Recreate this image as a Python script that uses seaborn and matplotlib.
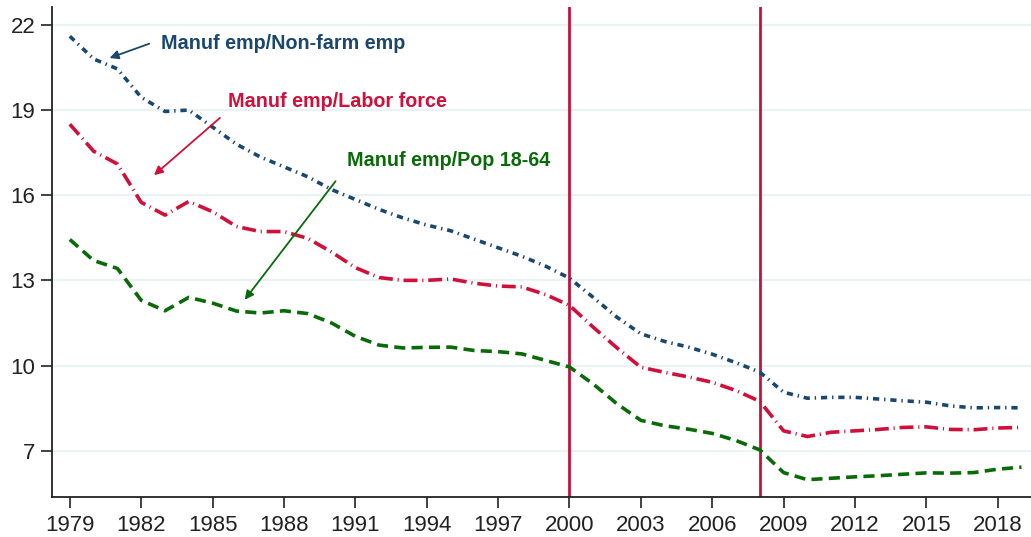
import matplotlib
matplotlib.use('Agg')
import matplotlib.pyplot as plt
import seaborn as sns
import pandas as pd

# Datos (porcentajes)
years = list(range(1979, 2020))
nonfarm = [21.6, 20.8, 20.45, 19.45, 18.95, 19.0, 18.4, 17.8, 17.35, 17.0,
           16.65, 16.2, 15.85, 15.5, 15.2, 14.95, 14.75, 14.45, 14.15, 13.85,
           13.5, 13.08, 12.4, 11.7, 11.12, 10.85, 10.65, 10.4, 10.1, 9.77,
           9.06, 8.85, 8.88, 8.88, 8.82, 8.76, 8.71, 8.58, 8.51, 8.52, 8.51]
labor = [18.5, 17.55, 17.1, 15.75, 15.3, 15.78, 15.42, 14.9, 14.72, 14.72,
         14.48, 14.0, 13.45, 13.1, 13.0, 13.0, 13.05, 12.9, 12.8, 12.77,
         12.5, 12.12, 11.35, 10.62, 9.94, 9.76, 9.6, 9.41, 9.12, 8.74,
         7.7, 7.5, 7.65, 7.7, 7.75, 7.82, 7.84, 7.75, 7.74, 7.8, 7.82]
pop1864 = [14.44, 13.7, 13.42, 12.3, 11.93, 12.4, 12.2, 11.92, 11.85, 11.93,
           11.83, 11.5, 11.03, 10.72, 10.62, 10.64, 10.65, 10.53, 10.49, 10.41,
           10.18, 9.95, 9.35, 8.65, 8.07, 7.88, 7.76, 7.61, 7.36, 7.03,
           6.23, 5.98, 6.03, 6.08, 6.12, 6.17, 6.22, 6.21, 6.23, 6.35, 6.42]
recession_years = [2000, 2008]
xticks = list(range(1979, 2019, 3))
yticks = [7, 10, 13, 16, 19, 22]

df = pd.DataFrame({'year': years, 'nonfarm': nonfarm, 'labor': labor, 'pop': pop1864})

sns.set_style('ticks')
plt.rcParams['font.family'] = ['Liberation Sans', 'DejaVu Sans']
plt.rcParams['lines.scale_dashes'] = False

NAVY = '#1a476f'
CRIMSON = '#d0103a'
GREEN = '#086b08'

fig = plt.figure(figsize=(10.31, 5.37), dpi=100)
ax = fig.add_axes([0.0504, 0.0745, 0.9496, 0.9125])

for y in yticks:
    ax.axhline(y, color='#eaf2f3', lw=1.6, zorder=0)

for yr in recession_years:
    ax.axvline(yr, color='#c8103a', lw=2.0, zorder=1)

sns.lineplot(data=df, x='year', y='nonfarm', ax=ax, color=NAVY, lw=2.6,
             zorder=3).lines[-1].set_dashes((4.5, 3.5, 1, 3.5))
sns.lineplot(data=df, x='year', y='labor', ax=ax, color=CRIMSON, lw=2.6,
             zorder=3).lines[-1].set_dashes((10, 3.5, 0.8, 3.5))
sns.lineplot(data=df, x='year', y='pop', ax=ax, color=GREEN, lw=2.6,
             zorder=3).lines[-1].set_dashes((8, 4.5))

# Etiquetas con flechas
ax.text(1982.83, 21.33, 'Manuf emp/Non-farm emp', color=NAVY, fontsize=14.2,
        fontweight='bold', va='center', ha='left')
ax.annotate('', xy=(1980.56, 20.80), xytext=(1982.45, 21.37),
            arrowprops=dict(arrowstyle='-|>', color=NAVY, lw=1.3, mutation_scale=13))
ax.text(1985.65, 19.29, 'Manuf emp/Labor force', color=CRIMSON, fontsize=14.2,
        fontweight='bold', va='center', ha='left')
ax.annotate('', xy=(1982.45, 16.64), xytext=(1985.4, 18.79),
            arrowprops=dict(arrowstyle='-|>', color=CRIMSON, lw=1.3, mutation_scale=13))
ax.text(1990.65, 17.24, 'Manuf emp/Pop 18-64', color=GREEN, fontsize=14.2,
        fontweight='bold', va='center', ha='left')
ax.annotate('', xy=(1986.28, 12.24), xytext=(1990.24, 16.57),
            arrowprops=dict(arrowstyle='-|>', color=GREEN, lw=1.3, mutation_scale=13))

ax.set_xlim(1978.25, 2019.4)
ax.set_ylim(5.37, 22.63)
ax.set_xticks(xticks)
ax.set_yticks(yticks)
ax.set_xlabel('')
ax.set_ylabel('')
ax.tick_params(axis='both', labelsize=16, length=8, width=1.2, colors='#222222')
ax.tick_params(axis='y', pad=4)
ax.tick_params(axis='x', pad=5)
for s in ['top', 'right']:
    ax.spines[s].set_visible(False)
for s in ['left', 'bottom']:
    ax.spines[s].set_linewidth(1.3)
    ax.spines[s].set_color('#222222')

fig.savefig('out.png', dpi=100)
